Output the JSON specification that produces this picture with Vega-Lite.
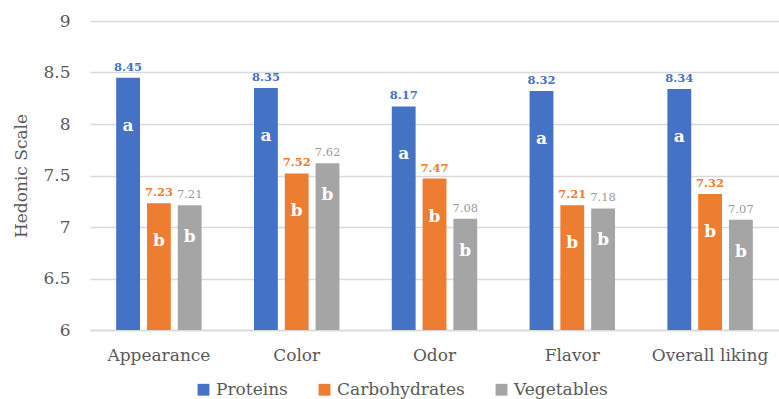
{
  "$schema": "https://vega.github.io/schema/vega-lite/v6.json",
  "width": 689,
  "height": 309,
  "autosize": {"type": "none"},
  "padding": {"left": 90, "top": 21, "right": 0, "bottom": 69},
  "background": "white",
  "config": {
    "font": "DejaVu Serif",
    "view": {"stroke": null},
    "axis": {"labelFont": "DejaVu Serif", "titleFont": "DejaVu Serif"},
    "legend": {"labelFont": "DejaVu Serif"}
  },
  "data": {
    "values": [
      {"attribute": "Appearance", "group": "Proteins", "value": 8.45, "letter": "a"},
      {"attribute": "Appearance", "group": "Carbohydrates", "value": 7.23, "letter": "b"},
      {"attribute": "Appearance", "group": "Vegetables", "value": 7.21, "letter": "b"},
      {"attribute": "Color", "group": "Proteins", "value": 8.35, "letter": "a"},
      {"attribute": "Color", "group": "Carbohydrates", "value": 7.52, "letter": "b"},
      {"attribute": "Color", "group": "Vegetables", "value": 7.62, "letter": "b"},
      {"attribute": "Odor", "group": "Proteins", "value": 8.17, "letter": "a"},
      {"attribute": "Odor", "group": "Carbohydrates", "value": 7.47, "letter": "b"},
      {"attribute": "Odor", "group": "Vegetables", "value": 7.08, "letter": "b"},
      {"attribute": "Flavor", "group": "Proteins", "value": 8.32, "letter": "a"},
      {"attribute": "Flavor", "group": "Carbohydrates", "value": 7.21, "letter": "b"},
      {"attribute": "Flavor", "group": "Vegetables", "value": 7.18, "letter": "b"},
      {"attribute": "Overall liking", "group": "Proteins", "value": 8.34, "letter": "a"},
      {"attribute": "Overall liking", "group": "Carbohydrates", "value": 7.32, "letter": "b"},
      {"attribute": "Overall liking", "group": "Vegetables", "value": 7.07, "letter": "b"}
    ]
  },
  "encoding": {
    "x": {
      "field": "attribute",
      "type": "nominal",
      "sort": ["Appearance", "Color", "Odor", "Flavor", "Overall liking"],
      "scale": {"paddingInner": 0.38, "paddingOuter": 0.19},
      "axis": {
        "title": null,
        "labelAngle": 0,
        "labelFont": "DejaVu Serif",
        "labelFontSize": 17,
        "labelColor": "#595959",
        "labelPadding": 17,
        "ticks": false,
        "domainColor": "#d9d9d9",
        "domainWidth": 1.5
      }
    },
    "xOffset": {
      "field": "group",
      "type": "nominal",
      "sort": ["Proteins", "Carbohydrates", "Vegetables"],
      "scale": {"paddingInner": 0.226, "paddingOuter": 0}
    },
    "y": {
      "field": "value",
      "type": "quantitative",
      "scale": {"domain": [6, 9], "zero": false, "nice": false},
      "axis": {
        "title": "Hedonic Scale",
        "titleFont": "DejaVu Serif",
        "titleFontSize": 17,
        "titleFontWeight": "normal",
        "titleColor": "#595959",
        "titlePadding": 12,
        "values": [6, 6.5, 7, 7.5, 8, 8.5, 9],
        "format": ".1~f",
        "labelFont": "DejaVu Serif",
        "labelFontSize": 17,
        "labelColor": "#595959",
        "labelPadding": 20,
        "ticks": false,
        "domain": false,
        "gridColor": "#d9d9d9",
        "gridWidth": 1.5
      }
    }
  },
  "layer": [
    {
      "mark": {"type": "bar", "clip": true},
      "encoding": {
        "color": {
          "field": "group",
          "type": "nominal",
          "sort": ["Proteins", "Carbohydrates", "Vegetables"],
          "scale": {
            "domain": ["Proteins", "Carbohydrates", "Vegetables"],
            "range": ["#4472C4", "#ED7D31", "#A5A5A5"]
          },
          "legend": {
            "title": null,
            "orient": "none",
            "legendX": 105,
            "legendY": 360,
            "direction": "horizontal",
            "symbolType": "square",
            "symbolSize": 140,
            "symbolStrokeWidth": 0,
            "labelFont": "DejaVu Serif",
            "labelFontSize": 17,
            "labelColor": "#595959",
            "labelOffset": 4,
            "columnPadding": 28,
            "encode": {
              "labels": {"update": {"font": {"value": "DejaVu Serif"}}}
            }
          }
        }
      }
    },
    {
      "transform": [{"filter": "datum.group === 'Proteins'"}],
      "mark": {"type": "text", "baseline": "bottom", "dy": -5, "fontSize": 11.5, "fontWeight": "bold", "color": "#4472C4"},
      "encoding": {"text": {"field": "value", "type": "quantitative", "format": ".2f"}}
    },
    {
      "transform": [{"filter": "datum.group === 'Carbohydrates'"}],
      "mark": {"type": "text", "baseline": "bottom", "dy": -5, "fontSize": 11.5, "fontWeight": "bold", "color": "#ED7D31"},
      "encoding": {"text": {"field": "value", "type": "quantitative", "format": ".2f"}}
    },
    {
      "transform": [{"filter": "datum.group === 'Vegetables'"}],
      "mark": {"type": "text", "baseline": "bottom", "dy": -5, "fontSize": 11.5, "fontWeight": "normal", "color": "#9a9a9a"},
      "encoding": {"text": {"field": "value", "type": "quantitative", "format": ".2f"}}
    },
    {
      "transform": [{"filter": "datum.group === 'Proteins'"}],
      "mark": {"type": "text", "baseline": "middle", "dy": 48, "fontSize": 17, "fontWeight": "bold", "color": "white"},
      "encoding": {"text": {"field": "letter", "type": "nominal"}}
    },
    {
      "transform": [{"filter": "datum.group === 'Carbohydrates'"}],
      "mark": {"type": "text", "baseline": "middle", "dy": 38, "fontSize": 17, "fontWeight": "bold", "color": "white"},
      "encoding": {"text": {"field": "letter", "type": "nominal"}}
    },
    {
      "transform": [{"filter": "datum.group === 'Vegetables'"}],
      "mark": {"type": "text", "baseline": "middle", "dy": 32, "fontSize": 17, "fontWeight": "bold", "color": "white"},
      "encoding": {"text": {"field": "letter", "type": "nominal"}}
    }
  ]
}
